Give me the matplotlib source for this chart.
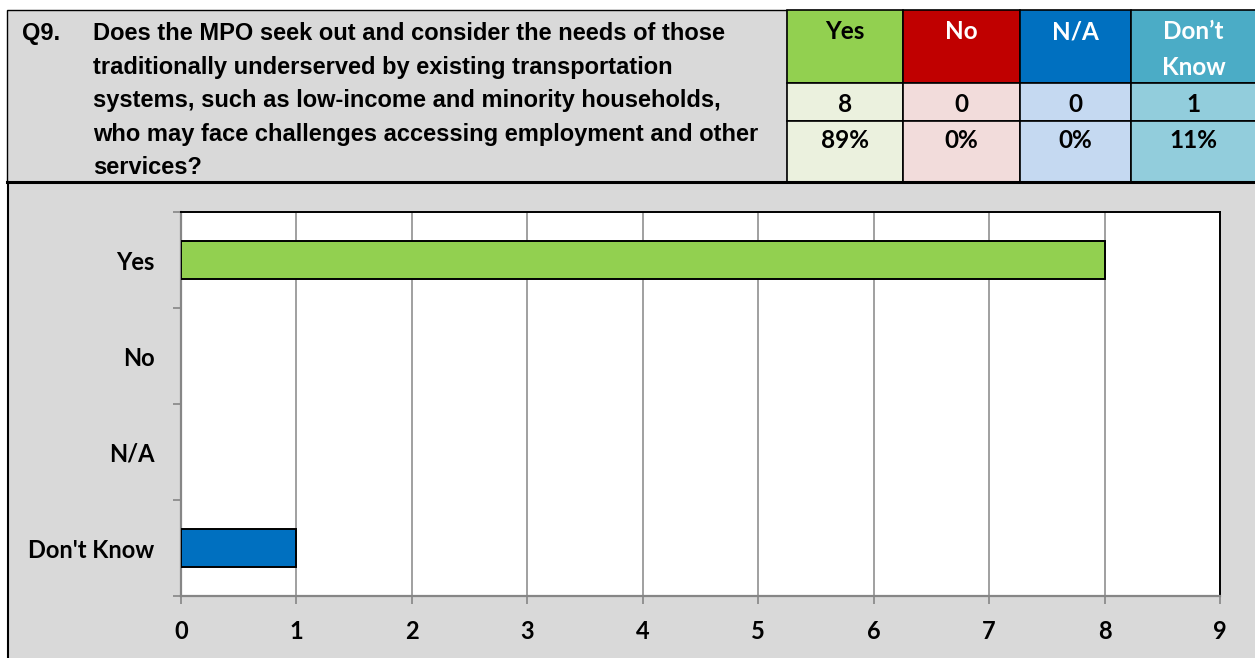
import matplotlib.pyplot as plt
from matplotlib.patches import Rectangle

# Survey answers for Q9
categories = ["Yes", "No", "N/A", "Don't Know"]
header_labels = ["Yes", "No", "N/A", "Don\u2019t\nKnow"]
counts = [8, 0, 0, 1]
percents = ["89%", "0%", "0%", "11%"]
x_ticks = [0, 1, 2, 3, 4, 5, 6, 7, 8, 9]

question_no = "Q9."
question_lines = [
    "Does the MPO seek out and consider the needs of those",
    "traditionally underserved by existing transportation",
    "systems, such as low-income and minority households,",
    "who may face challenges accessing employment and other",
    "services?",
]

# Colours taken from the table / chart
head_colors = ["#92d050", "#c00000", "#0070c0", "#4bacc6"]
head_text = ["black", "white", "white", "white"]
cell_colors = ["#ebf1de", "#f2dcdb", "#c5d9f1", "#92cddc"]
bar_colors = ["#92d050", "#c00000", "#4bacc6", "#0070c0"]

W, H = 1255, 658
fig = plt.figure(figsize=(W / 100, H / 100), dpi=100)
fig.patch.set_facecolor("white")

# background axes in pixel coordinates for the table part
bg = fig.add_axes([0, 0, 1, 1])
bg.set_xlim(0, W)
bg.set_ylim(H, 0)
bg.axis("off")

sans = ["Liberation Sans", "DejaVu Sans"]
calib = ["Lato", "DejaVu Sans"]

# question cell
bg.add_patch(Rectangle((7, 10), 780, 172, fc="#d9d9d9", ec="black", lw=1))
bg.text(22, 40, question_no, family=sans, weight="bold", fontsize=17, va="baseline")
baselines = [40, 74, 107, 141, 174]
for line, yb in zip(question_lines, baselines):
    bg.text(93, yb, line, family=sans, weight="bold", fontsize=17, va="baseline")

# answer table
col_edges = [787, 903, 1020, 1131, 1256]
row_edges = [10, 83, 121, 182]
for i in range(len(categories)):
    x0, x1 = col_edges[i], col_edges[i + 1]
    xc = (x0 + x1) / 2
    bg.add_patch(Rectangle((x0, row_edges[0]), x1 - x0, row_edges[1] - row_edges[0],
                           fc=head_colors[i], ec="black", lw=1.2))
    for r in (1, 2):
        bg.add_patch(Rectangle((x0, row_edges[r]), x1 - x0, row_edges[r + 1] - row_edges[r],
                               fc=cell_colors[i], ec="black", lw=1.2))
    for k, part in enumerate(header_labels[i].split("\n")):
        bg.text(xc, 39 + k * 36, part, family=calib, weight="bold", fontsize=17.5,
                color=head_text[i], ha="center", va="baseline")
    bg.text(xc, 112, str(counts[i]), family=calib, weight="bold", fontsize=17.5,
            ha="center", va="baseline")
    bg.text(xc, 148, percents[i], family=calib, weight="bold", fontsize=17.5,
            ha="center", va="baseline")

# chart box
bg.add_patch(Rectangle((8, 182), W - 8, H - 182, fc="#d9d9d9", ec="none"))
bg.plot([8, 8], [182, H], color="black", lw=1.5)
bg.plot([7, W], [182, 182], color="black", lw=2.2)

# bar chart
left, right, top, bottom = 181, 1220, 212, 596
ax = fig.add_axes([left / W, (H - bottom) / H, (right - left) / W, (bottom - top) / H])
ax.set_facecolor("white")
ypos = list(range(len(categories)))[::-1]
lws = [1.4 if v > 0 else 0 for v in counts]
ax.barh(ypos, counts, height=0.4, color=bar_colors, edgecolor="black", linewidth=lws, zorder=3)

ax.set_xlim(0, 9)
ax.set_ylim(-0.5, len(categories) - 0.5)
ax.set_xticks(x_ticks)
ax.set_xticklabels([str(t) for t in x_ticks], family=calib, weight="bold", fontsize=17)
ax.set_yticks(ypos)
ax.set_yticklabels(categories, family=calib, weight="bold", fontsize=17)
ax.set_yticks([i - 0.5 for i in range(len(categories) + 1)], minor=True)
ax.tick_params(axis="y", which="major", length=0, pad=19)
ax.tick_params(axis="y", which="minor", length=6, width=1.2, color="#868686")
ax.tick_params(axis="x", length=6, width=1.2, color="#868686", pad=11)
ax.grid(axis="x", color="#999999", linewidth=1.3, zorder=0)
ax.set_axisbelow(True)
for side in ("left", "bottom"):
    ax.spines[side].set_color("#868686")
    ax.spines[side].set_linewidth(1.6)
for side in ("top", "right"):
    ax.spines[side].set_color("black")
    ax.spines[side].set_linewidth(1.4)

fig.savefig("out.png", dpi=100, facecolor=fig.get_facecolor())
